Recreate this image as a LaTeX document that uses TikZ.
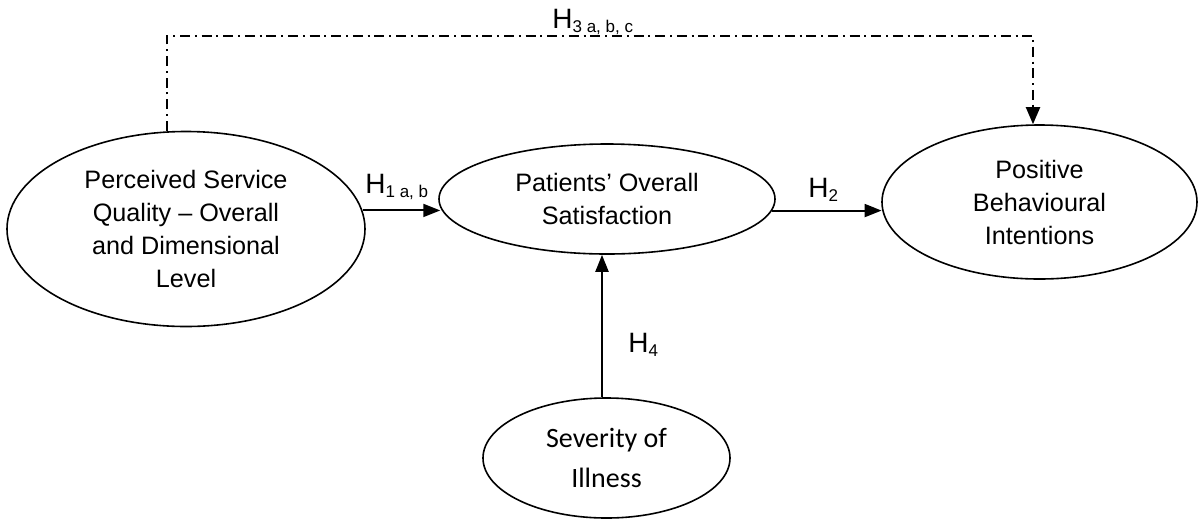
\documentclass[tikz,border=0pt]{standalone}
\usepackage{fontspec}
\setmainfont{Liberation Sans}
\newfontfamily\calfont{Carlito}
\usetikzlibrary{arrows.meta,shapes.geometric}
\newcommand{\hlab}[1]{H\raisebox{-2pt}{\fontsize{8.5}{10}\selectfont #1}}
\begin{document}
\begin{tikzpicture}[x=0.5pt,y=-0.5pt,
  el/.style={draw, ellipse, line width=0.8pt, inner sep=0pt, align=center,
    font=\fontsize{12.6}{16.5}\selectfont},
  arr/.style={line width=1pt, -{Triangle[length=8.5pt,width=6.5pt]}},
  dashdotline/.style={line width=1pt, dash pattern=on 5pt off 2.4pt on 1pt off 2.4pt,
    -{Triangle[length=8.5pt,width=7pt]}},
  hlabel/.style={anchor=base west, inner sep=0pt, font=\fontsize{14}{16}\selectfont}]
\useasboundingbox (0,0) rectangle (1201,521);
\node[el, minimum width=179pt, minimum height=97.5pt] (psq) at (186,229)
  {Perceived Service\\Quality – Overall\\and Dimensional\\Level};
\node[el, minimum width=168pt, minimum height=55pt] (pos) at (607,199)
  {Patients’ Overall\\Satisfaction};
\node[el, minimum width=157.5pt, minimum height=77pt] (pbi) at (1039.5,202)
  {Positive\\Behavioural\\Intentions};
\node[el, minimum width=123.5pt, minimum height=60pt,
  font=\calfont\fontsize{14}{20}\selectfont] (sev) at (606.5,458)
  {Severity of\\Illness};
\coordinate (h4x) at (602,0);
\draw[arr] (psq.6.4) -- (psq.6.4 -| pos.183.5);
\draw[arr] (pos.356.5) -- (pos.356.5 -| pbi.182.6);
\draw[arr] (sev.north -| h4x) -- (pos.south -| h4x);
\draw[dashdotline] ([xshift=-9.5pt]psq.north) -- ++(0,-95) -| ([xshift=-3.25pt]pbi.north);
\node[hlabel] (l1) at (365,193) {\hlab{1 a, b}};
\node[hlabel] (l2) at (808,197) {\hlab{2}};
\node[hlabel] (l3) at (552,28) {\hlab{3 a, b, c}};
\node[hlabel] (l4) at (628,352) {\hlab{4}};
\end{tikzpicture}
\end{document}
